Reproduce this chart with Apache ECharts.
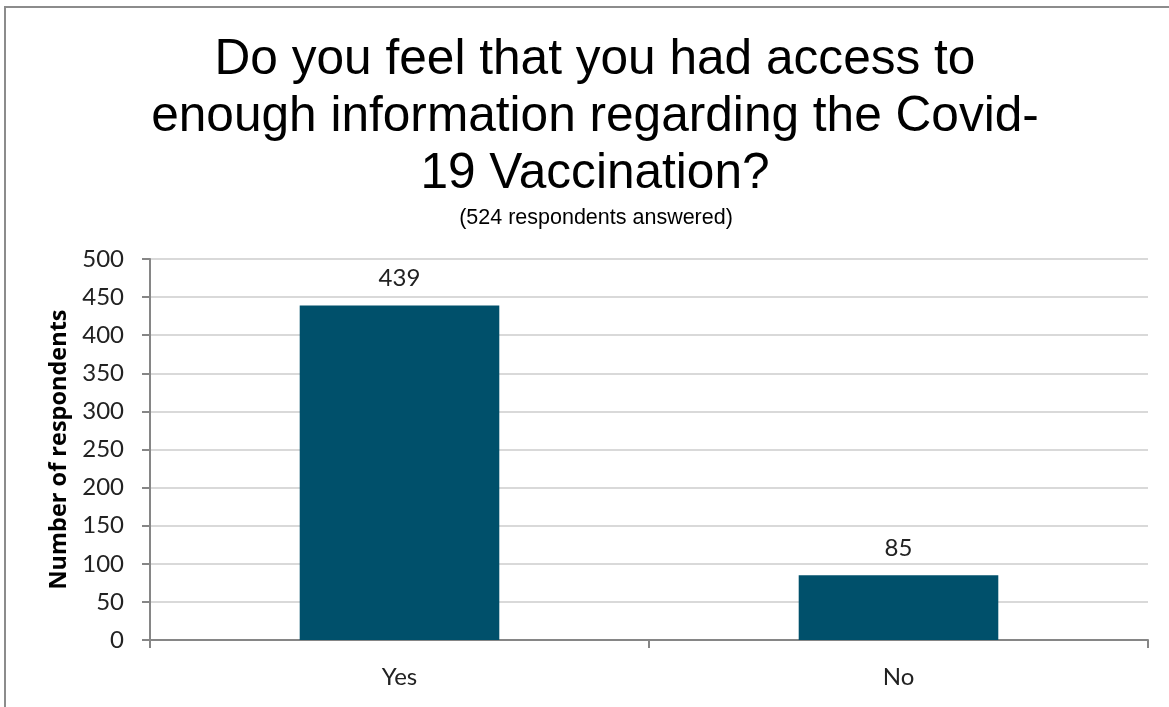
<!DOCTYPE html>
<html>
<head>
<meta charset="utf-8">
<script src="https://cdn.jsdelivr.net/npm/echarts@6/dist/echarts.min.js"></script>
<style>
  html, body { margin: 0; padding: 0; background: #fff; }
  #chart { width: 1169px; height: 707px; }
</style>
</head>
<body>
<div id="chart"></div>
<script>
// Survey answers
const categories = ['Yes', 'No'];
const respondents = [439, 85];
const yTicks = [0, 50, 100, 150, 200, 250, 300, 350, 400, 450, 500];

const titleLines = [
  'Do you feel that you had access to',
  'enough information regarding the Covid-',
  '19 Vaccination?'
];
const subtitle = '(524 respondents answered)';

const chart = echarts.init(document.getElementById('chart'), null, { renderer: 'canvas' });

const axisGray = '#868686';
const labelFont = 'Lato, "Open Sans", sans-serif';

chart.setOption({
  animation: false,
  backgroundColor: '#ffffff',
  title: [
    {
      text: titleLines.join('\n'),
      left: 590,
      textAlign: 'center',
      top: 27,
      textStyle: {
        fontFamily: '"Liberation Sans", Arial, sans-serif',
        fontWeight: 'normal',
        fontSize: 49.6,
        lineHeight: 57,
        color: '#000'
      }
    },
    {
      text: subtitle,
      left: 591,
      textAlign: 'center',
      top: 202,
      textStyle: {
        fontFamily: '"Liberation Sans", Arial, sans-serif',
        fontWeight: 'normal',
        fontSize: 21.5,
        color: '#000'
      }
    }
  ],
  graphic: [
    {
      type: 'polyline',
      shape: { points: [[5, 707], [5, 7], [1169, 7]] },
      style: { stroke: '#8c8c8c', lineWidth: 2, fill: null }
    }
  ],
  grid: { left: 150, right: 21, top: 259, bottom: 67 },
  xAxis: {
    type: 'category',
    data: categories,
    axisLine: { lineStyle: { color: axisGray, width: 2 } },
    axisTick: { show: true, length: 8, lineStyle: { color: axisGray, width: 2 } },
    axisLabel: { margin: 25, fontFamily: labelFont, fontSize: 24, color: '#222' }
  },
  yAxis: {
    type: 'value',
    min: yTicks[0],
    max: yTicks[yTicks.length - 1],
    interval: yTicks[1] - yTicks[0],
    name: 'Number of respondents',
    nameLocation: 'middle',
    nameGap: 78,
    nameRotate: 90,
    nameTextStyle: { fontFamily: '"Open Sans", Lato, sans-serif', fontWeight: 'bold', fontSize: 23.5, color: '#000' },
    axisLine: { show: true, lineStyle: { color: axisGray, width: 2 } },
    axisTick: { show: true, length: 8, lineStyle: { color: axisGray, width: 2 } },
    axisLabel: { margin: 26, fontFamily: labelFont, fontSize: 24, color: '#222' },
    splitLine: { lineStyle: { color: '#d9d9d9', width: 2 } }
  },
  series: [
    {
      type: 'bar',
      data: respondents,
      barWidth: '40%',
      itemStyle: { color: '#00506b' },
      label: {
        show: true,
        position: 'top',
        distance: 15,
        fontFamily: labelFont,
        fontSize: 24,
        color: '#222'
      }
    }
  ]
});
</script>
</body>
</html>
